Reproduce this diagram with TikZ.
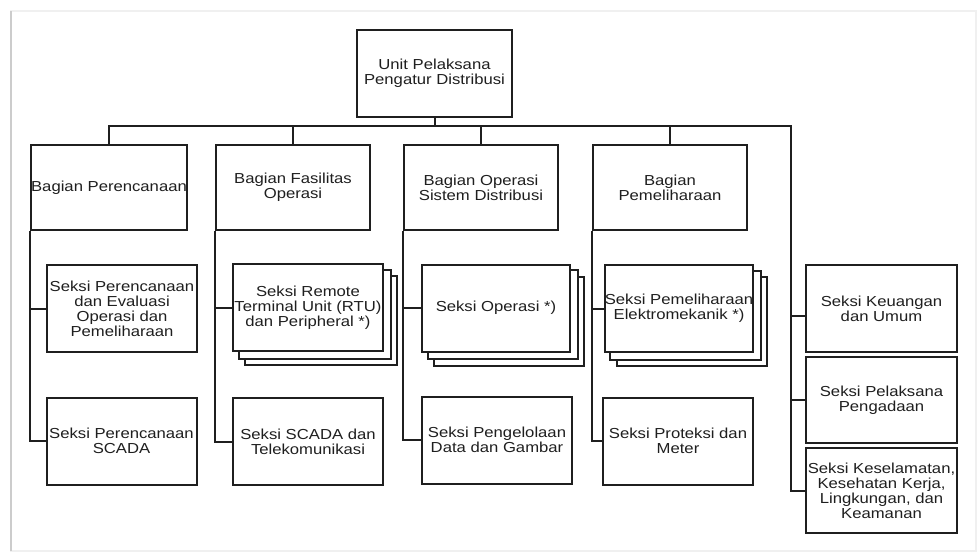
\documentclass[tikz,border=0pt]{standalone}
\usepackage{fontspec}
\setmainfont{Liberation Sans}[FakeStretch=1.15]
\usetikzlibrary{calc,backgrounds}

\begin{document}
\begin{tikzpicture}[x=1pt,y=-1pt,
  unit/.style={draw=black!88, line width=2pt, fill=white, rectangle,
    align=center, inner sep=0pt, text=black!88,
    font=\fontsize{14.5}{15}\selectfont},
  head/.style={unit, minimum width=154pt, minimum height=85pt},
  sect/.style={unit, minimum width=150pt, minimum height=87pt},
  link/.style={draw=black!88, line width=2pt},
  layer/.style={draw=black!88, line width=2pt, fill=white}]

\useasboundingbox (0,0) rectangle (978,554);

% top unit
\node[unit, minimum width=155pt, minimum height=87pt] (top) at (434.5,73.5)
  {Unit Pelaksana\\Pengatur Distribusi};

% divisions
\node[head] (b1) at (109,187.5) {Bagian Perencanaan};
\node[head] (b2) at (293,187.5) {Bagian Fasilitas\\Operasi};
\node[head] (b3) at (481,187.5) {Bagian Operasi\\Sistem Distribusi};
\node[head] (b4) at (670,187.5) {Bagian\\Pemeliharaan};

% sections under each division
\node[sect] (s11) at (122,308.5) {Seksi Perencanaan\\dan Evaluasi\\Operasi dan\\Pemeliharaan};
\node[sect] (s12) at (121.5,441) {Seksi Perencanaan\\SCADA};
\node[sect] (s21) at (308,307.5) {Seksi Remote\\Terminal Unit (RTU)\\dan Peripheral *)};
\node[sect] (s22) at (308,441.5) {Seksi SCADA dan\\Telekomunikasi};
\node[sect, minimum width=148pt] (s31) at (496,308) {Seksi Operasi *)};
\node[sect] (s32) at (497,440) {Seksi Pengelolaan\\Data dan Gambar};
\node[sect, minimum width=148pt] (s41) at (679,308.5) {Seksi Pemeliharaan\\Elektromekanik *)};
\node[sect] (s42) at (678,441) {Seksi Proteksi dan\\Meter};

% sections directly under the unit
\node[sect, minimum width=151pt] (r1) at (881.5,308.5) {Seksi Keuangan\\dan Umum};
\node[sect, minimum width=151pt, minimum height=86pt] (r2) at (881.5,400) {Seksi Pelaksana\\Pengadaan};
\node[sect, minimum width=151pt, minimum height=85pt] (r3) at (881.5,490.5)
  {Seksi Keselamatan,\\Kesehatan Kerja,\\Lingkungan, dan\\Keamanan};

% main bus
\coordinate (barR) at (791,126);
\draw[link] (top.south) -- (top.south |- barR);
\draw[link] (b1.north) |- (barR) |- (r3.west);
\foreach \b in {b2,b3,b4}
  \draw[link] (\b.north |- barR) -- (\b.north);

% right column branches
\coordinate (r1in) at ($(r1.west)+(0,7)$);
\draw[link] (barR |- r1in) -- (r1in);
\draw[link] (barR |- r2.west) -- (r2.west);

% division branches
\foreach \b/\u/\l in {b1/s11/s12, b2/s21/s22, b3/s31/s32, b4/s41/s42}{
  \draw[link] (\b.south west) |- (\l.west);
  \draw[link] (\b.south west |- \u.west) -- (\u.west);
}

\begin{scope}[on background layer]
  % page frame
  \draw[gray!12, line width=1.2pt] (11,11) rectangle (976,551);
  \draw[gray!40, line width=2pt] (11,11) -- (11,551);
  % stacked sheets behind the multi-unit sections
  \foreach \s in {s21,s31,s41}
    \foreach \d in {13,6.5}
      \draw[layer] ($(\s.north west)+(\d,\d)$) rectangle ($(\s.south east)+(\d,\d)$);
\end{scope}
\end{tikzpicture}
\end{document}
